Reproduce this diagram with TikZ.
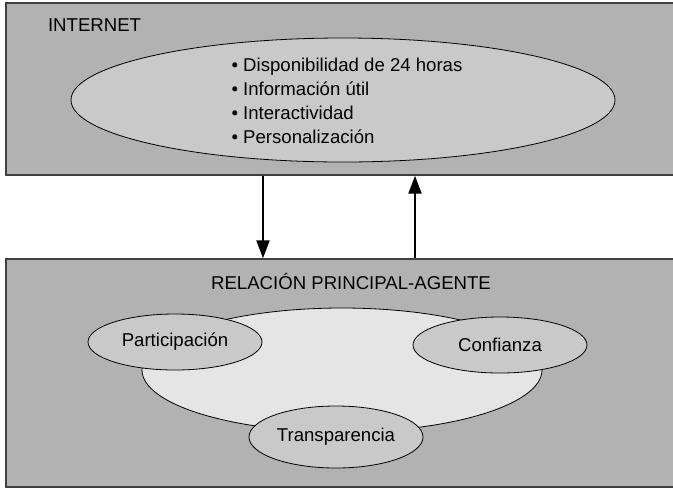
\documentclass[tikz,border=0pt]{standalone}
\usepackage{fontspec}
\setmainfont{Liberation Sans}
\usetikzlibrary{arrows.meta,shapes.geometric}
\begin{document}
\begin{tikzpicture}[x=0.5pt,y=-0.5pt,>={Triangle[length=9pt,width=6.5pt]},
  every node/.style={font=\fontsize{9.3}{12}\selectfont},
  panel/.style={draw=black!75,line width=0.7pt,fill=black!30,minimum width=336pt,inner sep=0pt},
  oval/.style={ellipse,draw,line width=0.4pt,fill=black!21,inner sep=0pt},
  flow/.style={->,line width=1.1pt}]
  \useasboundingbox (0,0) rectangle (673,488);

  \node[panel,minimum height=86pt] (inet) at (342,89) {};
  \node[anchor=west] (inettitle) at (41,25) {INTERNET};
  \node[oval,minimum width=272pt,minimum height=62pt] (inetoval) at (343,100) {};
  \node[align=left] (feats) at (347,101) {• Disponibilidad de 24 horas\\• Información útil\\• Interactividad\\• Personalización};

  \node[panel,minimum height=114pt] (rel) at (342,373) {};
  \node (reltitle) at (351,282) {RELACIÓN PRINCIPAL-AGENTE};
  \node[oval,fill=black!10,minimum width=200pt,minimum height=62pt] (core) at (342,370) {};
  \node[oval,minimum width=87pt,minimum height=28pt] (part) at (175,342) {Participación};
  \node[oval,minimum width=87pt,minimum height=28pt] (conf) at (500,345) {Confianza};
  \node[oval,minimum width=87pt,minimum height=31pt] (transp) at (336,437) {Transparencia};

  \coordinate (dn) at (263,0);
  \coordinate (up) at (415,0);
  \draw[flow] (inet.south -| dn) -- (rel.north -| dn);
  \draw[flow] (rel.north -| up) -- (inet.south -| up);

\end{tikzpicture}
\end{document}
